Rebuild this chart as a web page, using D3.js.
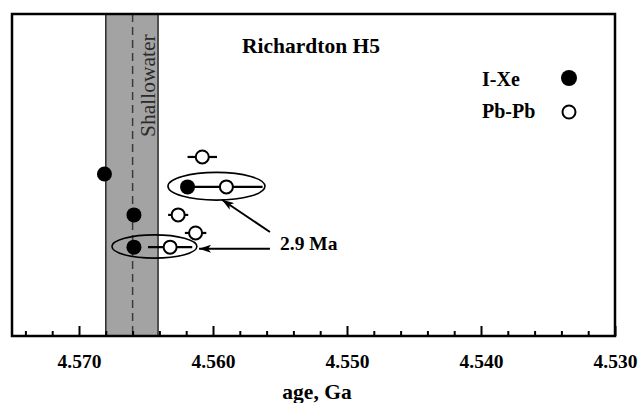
<!DOCTYPE html>
<html>
<head>
<meta charset="utf-8">
<script src="https://cdn.jsdelivr.net/npm/d3@7"></script>
<style>
  html, body { margin: 0; padding: 0; background: #fff; }
  svg { display: block; }
  text { font-family: "Liberation Serif", "Times New Roman", serif; }
</style>
</head>
<body>
<svg id="chart" width="644" height="403"></svg>
<script>
// I-Xe ages (filled) and Pb-Pb ages (open, with 1-sigma error) for Richardton H5 chondrules
const ixeAge = [4.5681, 4.5619, 4.5659, 4.5659];
const ixeRow = [5.03, 4.63, 3.76, 2.76];

const pbAge = [4.5608, 4.5590, 4.5626, 4.5613, 4.5632];
const pbErr = [0.0011, 0.0027, 0.00075, 0.0008, 0.00165];
const pbRow = [5.56, 4.63, 3.76, 3.20, 2.76];

// Shallowater reference age and its uncertainty band
const shallowater = [4.5660];
const shallowaterBand = [4.5680, 4.5641];

// Axis ticks
const majorTicks = [4.570, 4.560, 4.550, 4.540, 4.530];
const minorTicks = [4.574, 4.572, 4.568, 4.566, 4.564, 4.562, 4.558, 4.556, 4.554, 4.552,
                    4.548, 4.546, 4.544, 4.542, 4.538, 4.536, 4.534, 4.532];

// Ellipses pairing I-Xe and Pb-Pb ages of the same chondrule: centre and half-axes
const pairAge = [4.55974, 4.56437];
const pairRow = [4.65, 2.78];
const pairRx = [0.00362, 0.00317];
const pairRy = [0.43, 0.36];

// Arrows from the "2.9 Ma" note to the two pairs: tail and tip in data units
const arrowFromAge = [4.55575, 4.55575];
const arrowFromRow = [3.23, 2.71];
const arrowToAge = [4.55933, 4.56104];
const arrowToRow = [4.23, 2.71];

const plotLeft = 12, plotRight = 615, plotTop = 14, plotBottom = 336;

const svg = d3.select("#chart");

const x = d3.scaleLinear().domain([4.575, 4.530]).range([plotLeft, plotRight]);
const y = d3.scaleLinear().domain([0, 10]).range([plotBottom, plotTop]);

svg.append("defs").append("marker")
  .attr("id", "arrowhead")
  .attr("viewBox", "0 0 12 8")
  .attr("refX", 12).attr("refY", 4)
  .attr("markerWidth", 12).attr("markerHeight", 8)
  .attr("markerUnits", "userSpaceOnUse")
  .attr("orient", "auto")
  .append("path").attr("d", "M0,0 L12,4 L0,8 L3,4 Z").attr("fill", "#000");

// Shallowater band
svg.append("rect")
  .attr("x", x(shallowaterBand[0]))
  .attr("y", plotTop)
  .attr("width", x(shallowaterBand[1]) - x(shallowaterBand[0]))
  .attr("height", plotBottom - plotTop)
  .attr("fill", "#a3a3a3")
  .attr("stroke", "#2a2a2a")
  .attr("stroke-width", 1.5);

svg.append("line")
  .attr("x1", x(shallowater[0])).attr("x2", x(shallowater[0]))
  .attr("y1", plotTop).attr("y2", plotBottom)
  .attr("stroke", "#3a3a3a")
  .attr("stroke-width", 1.5)
  .attr("stroke-dasharray", "8,5");

svg.append("text")
  .attr("transform", `translate(${x(shallowaterBand[1]) - 3},137) rotate(-90)`)
  .attr("font-size", 21.5)
  .attr("fill", "#2a2a2a")
  .text("Shallowater");

// Pair ellipses
svg.selectAll("ellipse.pair")
  .data(pairAge)
  .join("ellipse")
  .attr("class", "pair")
  .attr("cx", d => x(d))
  .attr("cy", (d, i) => y(pairRow[i]))
  .attr("rx", (d, i) => x(d - pairRx[i]) - x(d))
  .attr("ry", (d, i) => y(0) - y(pairRy[i]))
  .attr("fill", "none")
  .attr("stroke", "#000")
  .attr("stroke-width", 1.6);

// Pb-Pb error bars
svg.selectAll("line.err")
  .data(pbAge)
  .join("line")
  .attr("class", "err")
  .attr("x1", (d, i) => x(d + pbErr[i]))
  .attr("x2", (d, i) => x(d - pbErr[i]))
  .attr("y1", (d, i) => y(pbRow[i]))
  .attr("y2", (d, i) => y(pbRow[i]))
  .attr("stroke", "#000")
  .attr("stroke-width", 2.2);

// Pb-Pb points
svg.selectAll("circle.pb")
  .data(pbAge)
  .join("circle")
  .attr("class", "pb")
  .attr("cx", d => x(d))
  .attr("cy", (d, i) => y(pbRow[i]))
  .attr("r", 6.5)
  .attr("fill", "#fff")
  .attr("stroke", "#000")
  .attr("stroke-width", 2);

// I-Xe points
svg.selectAll("circle.ixe")
  .data(ixeAge)
  .join("circle")
  .attr("class", "ixe")
  .attr("cx", d => x(d))
  .attr("cy", (d, i) => y(ixeRow[i]))
  .attr("r", 7.5)
  .attr("fill", "#000");

// Arrows and note
svg.selectAll("line.arrow")
  .data(arrowFromAge)
  .join("line")
  .attr("class", "arrow")
  .attr("x1", d => x(d))
  .attr("y1", (d, i) => y(arrowFromRow[i]))
  .attr("x2", (d, i) => x(arrowToAge[i]))
  .attr("y2", (d, i) => y(arrowToRow[i]))
  .attr("stroke", "#000")
  .attr("stroke-width", 2)
  .attr("marker-end", "url(#arrowhead)");

svg.append("text")
  .attr("x", 280).attr("y", 250)
  .attr("font-size", 19.5)
  .attr("font-weight", "bold")
  .text("2.9 Ma");

// Title
svg.append("text")
  .attr("x", 242).attr("y", 53)
  .attr("font-size", 21.5)
  .attr("font-weight", "bold")
  .text("Richardton H5");

// Legend
svg.append("text").attr("x", 482).attr("y", 86)
  .attr("font-size", 20).attr("font-weight", "bold").text("I-Xe");
svg.append("circle").attr("cx", 569).attr("cy", 78).attr("r", 8).attr("fill", "#000");
svg.append("text").attr("x", 482).attr("y", 118)
  .attr("font-size", 20).attr("font-weight", "bold").text("Pb-Pb");
svg.append("circle").attr("cx", 569).attr("cy", 112).attr("r", 6.5)
  .attr("fill", "#fff").attr("stroke", "#000").attr("stroke-width", 2);

// Inward ticks on the bottom axis
const axisMajor = d3.axisTop(x).tickValues(majorTicks).tickSize(10).tickFormat("");
const axisMinor = d3.axisTop(x).tickValues(minorTicks).tickSize(5).tickFormat("");
const gMaj = svg.append("g").attr("transform", `translate(0,${plotBottom})`).call(axisMajor);
const gMin = svg.append("g").attr("transform", `translate(0,${plotBottom})`).call(axisMinor);
[gMaj, gMin].forEach(g => {
  g.select(".domain").remove();
  g.selectAll(".tick line").attr("stroke", "#000").attr("stroke-width", 2);
});

// Tick labels below the axis
const labels = d3.axisBottom(x).tickValues(majorTicks).tickSize(0).tickPadding(0)
  .tickFormat(d3.format(".3f"));
const gLab = svg.append("g").attr("transform", "translate(0,368)").call(labels);
gLab.select(".domain").remove();
gLab.selectAll(".tick text")
  .attr("dy", 0)
  .attr("y", 0)
  .attr("font-family", "'Liberation Serif', 'Times New Roman', serif")
  .attr("font-size", 19.5)
  .attr("font-weight", "bold")
  .attr("fill", "#000");

svg.append("text")
  .attr("x", 317).attr("y", 399)
  .attr("text-anchor", "middle")
  .attr("font-size", 21.5)
  .attr("font-weight", "bold")
  .text("age, Ga");

// Frame
svg.append("rect")
  .attr("x", plotLeft).attr("y", plotTop)
  .attr("width", plotRight - plotLeft).attr("height", plotBottom - plotTop)
  .attr("fill", "none")
  .attr("stroke", "#000")
  .attr("stroke-width", 2.5);
</script>
</body>
</html>
